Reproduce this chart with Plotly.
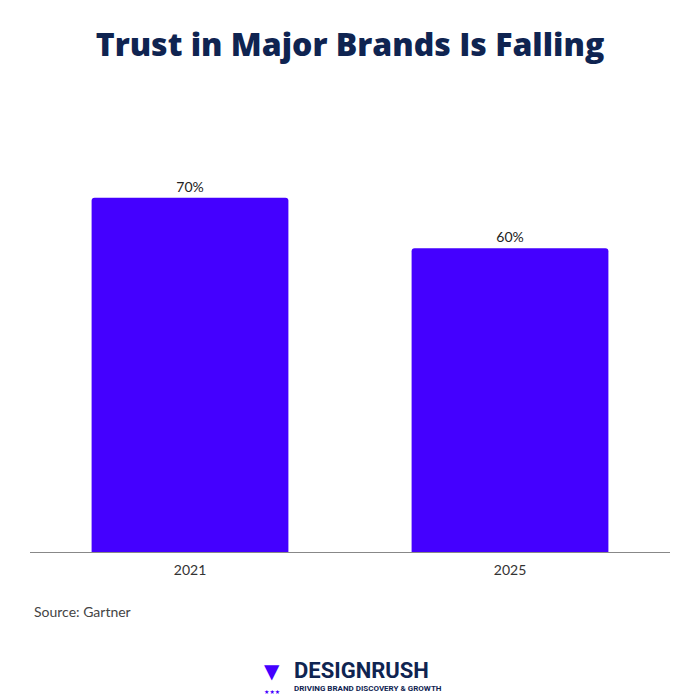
import plotly.graph_objects as go

years = ["2021", "2025"]
trust_pct = [70, 60]
bar_labels = ["70%", "60%"]

title_text = "Trust in Major Brands Is Falling"
source_text = "Source: Gartner"

NAVY = "#0f2451"
BAR = "#4400ff"

# page body has an 8px margin, so the figure is 8px smaller than the window
W = H = 692

fig = go.Figure()
fig.add_trace(go.Bar(
    x=years,
    y=trust_pct,
    text=bar_labels,
    textposition="outside",
    textfont=dict(family="Lato", size=14, color="#222222"),
    marker=dict(color=BAR, line=dict(width=0), cornerradius=3),
    cliponaxis=False,
    hoverinfo="skip",
))

fig.update_layout(
    width=W,
    height=H,
    margin=dict(l=22, r=30, t=139, b=148),
    paper_bgcolor="white",
    plot_bgcolor="white",
    bargap=0.385,
    showlegend=False,
    title=dict(
        text=title_text,
        x=(350 - 8) / W, xanchor="center",
        y=1 - 37 / H, yanchor="middle",
        font=dict(family="Open Sans", size=32, color=NAVY, weight=800),
    ),
    font=dict(family="Lato", color="#333333"),
)
fig.update_xaxes(
    showline=True, linecolor="#888888", linewidth=1,
    showgrid=False, ticks="", ticklabelstandoff=5,
    tickfont=dict(size=14, color="#333333"),
)
fig.update_yaxes(range=[0, 80], visible=False, showgrid=False)

# source note
fig.add_annotation(
    text=source_text, xref="paper", yref="paper", x=0.003, y=-0.148,
    xanchor="left", yanchor="middle", showarrow=False,
    font=dict(family="Lato", size=14, color="#444444"),
)

# designrush logo, approximated with text
fig.add_annotation(
    text="<b>DESIGNRUSH</b>", xref="paper", yref="paper", x=0.410, y=-0.293,
    xanchor="left", yanchor="middle", showarrow=False,
    font=dict(family="Roboto", size=22, color=NAVY),
)
fig.add_annotation(
    text="<b>DRIVING BRAND DISCOVERY &amp; GROWTH</b>", xref="paper", yref="paper",
    x=0.410, y=-0.336, xanchor="left", yanchor="middle", showarrow=False,
    font=dict(family="Roboto", size=8, color=NAVY),
)
fig.add_annotation(
    text="▼", xref="paper", yref="paper", x=0.378, y=-0.293,
    xanchor="center", yanchor="middle", showarrow=False,
    font=dict(family="DejaVu Sans", size=20, color=BAR),
)
fig.add_annotation(
    text="★★★", xref="paper", yref="paper", x=0.378, y=-0.345,
    xanchor="center", yanchor="middle", showarrow=False,
    font=dict(family="DejaVu Sans", size=6, color=BAR),
)

fig.write_html("out.html")
